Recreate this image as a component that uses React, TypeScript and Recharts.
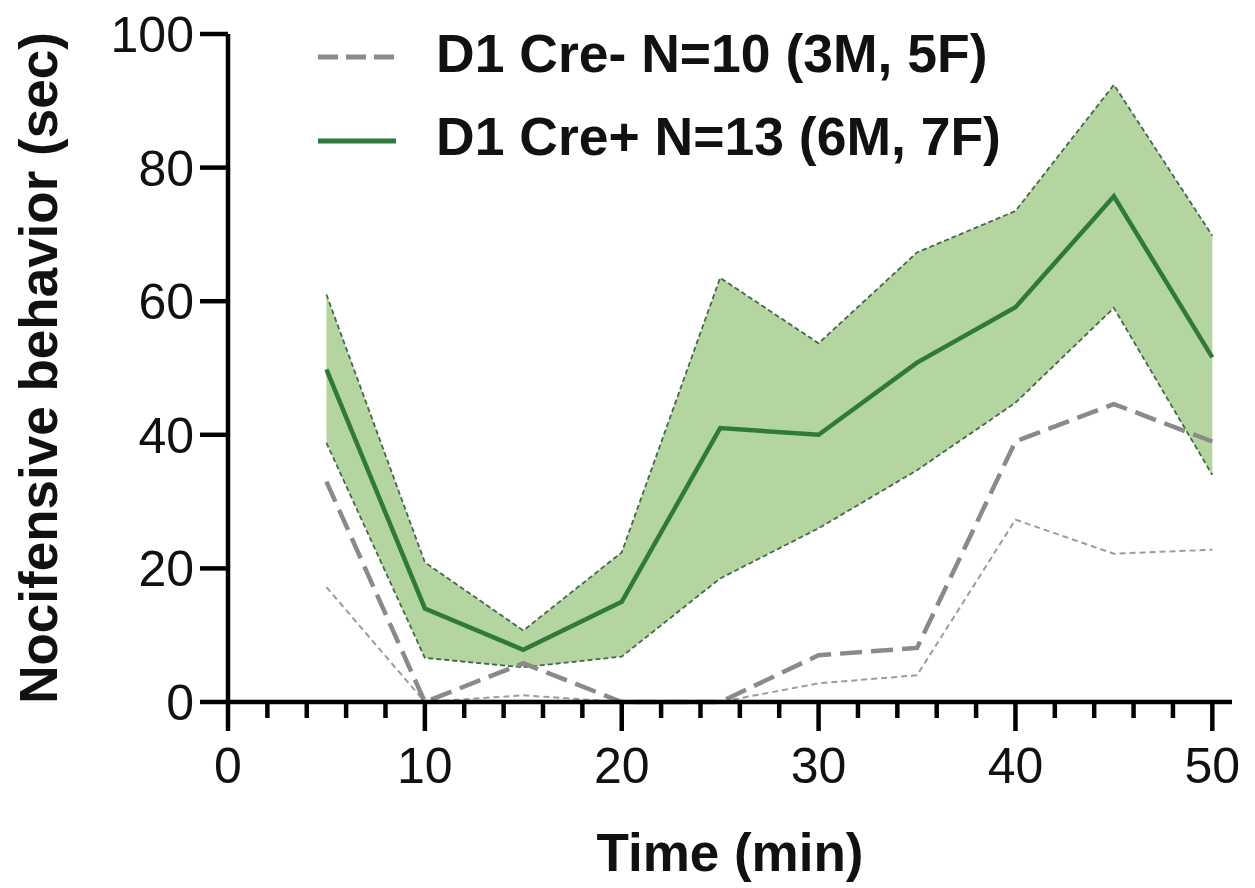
import React from 'react';
import { ComposedChart, Line, Area, XAxis, YAxis, Legend } from 'recharts';

const times = [5, 10, 15, 20, 25, 30, 35, 40, 45, 50];
const creNegMean = [33, 0, 5.8, 0, 0, 7, 8.1, 39, 44.6, 39];
const creNegLower = [17.2, 0, 1, 0, 0, 2.8, 4, 27.3, 22.2, 22.8];
const crePosMean = [49.8, 14, 7.8, 15, 41, 40, 50.8, 59.1, 75.7, 51.6];
const crePosUpper = [61, 20.9, 10.7, 22.4, 63.5, 53.7, 67.3, 73.5, 92.4, 69.8];
const crePosLower = [38.8, 6.6, 5.2, 6.8, 18.5, 26, 34.7, 44.8, 59, 34];
const xTicks = [0, 2, 4, 6, 8, 10, 12, 14, 16, 18, 20, 22, 24, 26, 28, 30, 32, 34, 36, 38, 40, 42, 44, 46, 48, 50];
const yTicks = [0, 20, 40, 60, 80, 100];
const legendLabels = ['D1 Cre- N=10 (3M, 5F)', 'D1 Cre+ N=13 (6M, 7F)'];

const FONT = '"Liberation Sans", Arial, Helvetica, sans-serif';
const GREEN = '#2f7a3a';
const BAND = '#b5d5a0';
const BAND_EDGE = '#43684a';
const GRAY = '#8a8a8a';
const GRAY_THIN = '#9c9c9c';

const data = times.map((t, i) => ({
  t,
  negMean: creNegMean[i],
  negLower: creNegLower[i],
  posMean: crePosMean[i],
  posUpper: crePosUpper[i],
  posLower: crePosLower[i],
  band: [crePosLower[i], crePosUpper[i]],
}));

const XTick = (props: any) => {
  const { x, y, payload } = props;
  const major = payload.value % 10 === 0;
  return (
    <g>
      <line x1={x} x2={x} y1={y} y2={y + (major ? 29 : 16)} stroke="#000" strokeWidth={4.5} />
      {major && (
        <text x={x} y={y + 81} textAnchor="middle" fontSize={50} fontFamily={FONT} fill="#111">
          {payload.value}
        </text>
      )}
    </g>
  );
};

const YTick = (props: any) => {
  const { x, y, payload } = props;
  return (
    <g>
      <line x1={x - 28} x2={x} y1={y} y2={y} stroke="#000" strokeWidth={4.5} />
      <text x={x - 34} y={y + 18} textAnchor="end" fontSize={50} fontFamily={FONT} fill="#111">
        {payload.value}
      </text>
    </g>
  );
};

const renderLegend = () => (
  <svg width={1100} height={175} style={{ display: 'block' }}>
    <line x1={318} x2={398} y1={57} y2={57} stroke={GRAY} strokeWidth={5} strokeDasharray="20 8" />
    <text x={436} y={72} fontSize={53.5} fontWeight="bold" fontFamily={FONT} fill="#111">
      {legendLabels[0]}
    </text>
    <line x1={318} x2={396} y1={141} y2={141} stroke={GREEN} strokeWidth={5} />
    <text x={436} y={155} fontSize={53.5} fontWeight="bold" fontFamily={FONT} fill="#111">
      {legendLabels[1]}
    </text>
  </svg>
);

const YLabel = (props: any) => {
  const vb = props.viewBox || { y: 34, height: 668 };
  const cy = vb.y + vb.height / 2;
  return (
    <text
      x={57}
      y={cy}
      transform={`rotate(-90, 57, ${cy})`}
      textAnchor="middle"
      fontSize={53}
      fontWeight="bold"
      fontFamily={FONT}
      fill="#111"
    >
      Nocifensive behavior (sec)
    </text>
  );
};

const XLabel = (props: any) => {
  const vb = props.viewBox || { x: 228, width: 1004 };
  const cx = vb.x + vb.width / 2;
  return (
    <text x={cx} y={871} textAnchor="middle" fontSize={53} fontWeight="bold" fontFamily={FONT} fill="#111">
      Time (min)
    </text>
  );
};

export default function App() {
  return (
    <div style={{ position: 'absolute', left: 0, top: 0, width: 1255, height: 888, background: '#fff' }}>
      <ComposedChart
        width={1255}
        height={888}
        data={data}
        margin={{ top: 34, right: 23, bottom: 0, left: 0 }}
      >
        <XAxis
          dataKey="t"
          type="number"
          domain={[0, 51]}
          ticks={xTicks}
          interval={0}
          height={186}
          tickSize={0}
          tickMargin={0}
          tickLine={false}
          axisLine={{ stroke: '#000', strokeWidth: 4.5 }}
          tick={<XTick />}
          label={<XLabel />}
        />
        <YAxis
          type="number"
          domain={[0, 100]}
          ticks={yTicks}
          interval={0}
          width={228}
          tickSize={0}
          tickMargin={0}
          tickLine={false}
          axisLine={{ stroke: '#000', strokeWidth: 4.5 }}
          tick={<YTick />}
          label={<YLabel />}
        />
        <Legend
          layout="horizontal"
          verticalAlign="middle"
          align="center"
          content={renderLegend}
          wrapperStyle={{ left: 0, top: 0, width: 1100, height: 175 }}
        />
        <Area
          dataKey="band"
          type="linear"
          stroke="none"
          fill={BAND}
          fillOpacity={1}
          isAnimationActive={false}
          legendType="none"
          activeDot={false}
        />
        <Line
          dataKey="posUpper"
          type="linear"
          stroke={BAND_EDGE}
          strokeWidth={1.8}
          strokeDasharray="5 3"
          dot={false}
          activeDot={false}
          isAnimationActive={false}
          legendType="none"
        />
        <Line
          dataKey="posLower"
          type="linear"
          stroke={BAND_EDGE}
          strokeWidth={1.8}
          strokeDasharray="5 3"
          dot={false}
          activeDot={false}
          isAnimationActive={false}
          legendType="none"
        />
        <Line
          dataKey="negLower"
          type="linear"
          stroke={GRAY_THIN}
          strokeWidth={2}
          strokeDasharray="6 4"
          dot={false}
          activeDot={false}
          isAnimationActive={false}
          legendType="none"
        />
        <Line
          dataKey="negMean"
          type="linear"
          stroke={GRAY}
          strokeWidth={4.5}
          strokeDasharray="22 9"
          dot={false}
          activeDot={false}
          isAnimationActive={false}
        />
        <Line
          dataKey="posMean"
          type="linear"
          stroke={GREEN}
          strokeWidth={4.5}
          dot={false}
          activeDot={false}
          isAnimationActive={false}
        />
      </ComposedChart>
    </div>
  );
}
